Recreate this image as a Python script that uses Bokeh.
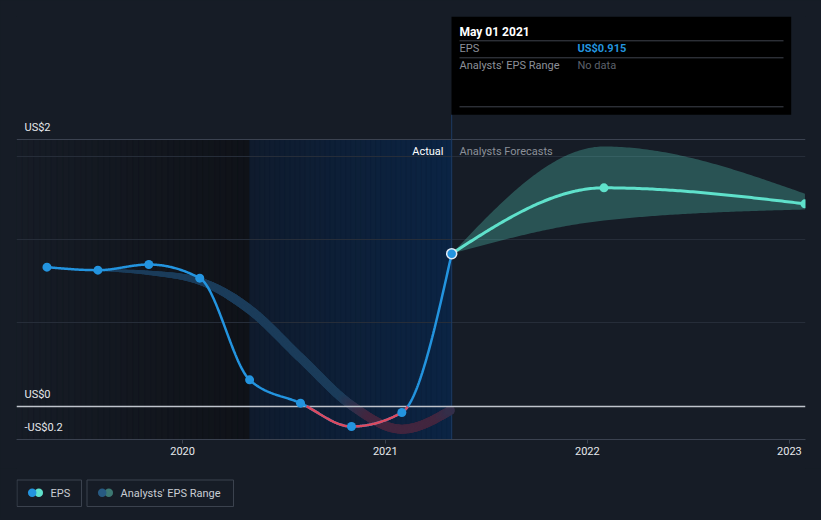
import numpy as np
import pandas as pd
from bokeh.plotting import figure
from bokeh.models import Range1d, FixedTicker, DatetimeTickFormatter, Label
from bokeh.layouts import column
from bokeh.embed import file_html
from bokeh.resources import INLINE
from bokeh.core.properties import value

# ---------------- data ----------------
eps_dates = ["2019-05-01", "2019-08-01", "2019-11-01", "2020-02-01", "2020-05-01",
             "2020-08-01", "2020-11-01", "2021-01-31", "2021-05-01"]
eps_values = [0.834, 0.816, 0.850, 0.768, 0.158, 0.018, -0.122, -0.038, 0.915]

past_range_dates = ["2019-08-01", "2019-11-01", "2020-02-01", "2020-05-01",
                    "2020-08-01", "2020-11-01", "2021-01-31", "2021-05-01"]
past_range_values = [0.816, 0.800, 0.750, 0.580, 0.290, 0.005, -0.138, -0.020]

forecast_dates = ["2021-05-01", "2022-01-31", "2023-01-29"]
forecast_values = [0.915, 1.310, 1.214]
forecast_low = [0.915, 1.114, 1.180]
forecast_high = [0.915, 1.558, 1.275]

x_tick_dates = ["2020-01-01", "2021-01-01", "2022-01-01", "2023-01-01"]
x_tick_labels = ["2020", "2021", "2022", "2023"]
y_tick_values = [1.6, 0.0, -0.2]
y_tick_labels = ["US$2", "US$0", "-US$0.2"]
grid_values = [0.5, 1.0, 1.5]

past_year_start = "2020-05-01"
tooltip_date = "May 01 2021"
tooltip_eps = "US$0.915"
legend_labels = ["EPS", "Analysts' EPS Range"]

# ---------------- styling ----------------
BG = "#161c26"
BLUE = "#2394df"
TEAL = "#5fe1cb"
RED = "#dc4a5f"
FONT = "Roboto"


def to_ms(dates):
    return pd.to_datetime(dates).values.astype("datetime64[ms]").astype("int64").astype(float)


def monotone_curve(xs, ys, n=60):
    """d3 curveMonotoneX rendering of the points."""
    xs = np.asarray(xs, float)
    ys = np.asarray(ys, float)
    N = len(xs)
    h = np.diff(xs)
    d = np.diff(ys) / h
    t = np.zeros(N)

    def sgn(v):
        return -1.0 if v < 0 else 1.0

    for i in range(1, N - 1):
        s0, s1, h0, h1 = d[i - 1], d[i], h[i - 1], h[i]
        pp = (s0 * h1 + s1 * h0) / (h0 + h1)
        t[i] = (sgn(s0) + sgn(s1)) * min(abs(s0), abs(s1), 0.5 * abs(pp))
    if N > 2:
        t[0] = (3 * d[0] - t[1]) / 2
        t[-1] = (3 * d[-1] - t[-2]) / 2
    else:
        t[0] = t[-1] = d[0]
    ox, oy = [], []
    for i in range(N - 1):
        u = np.linspace(0, 1, n, endpoint=(i == N - 2))
        h00 = 2 * u**3 - 3 * u**2 + 1
        h10 = u**3 - 2 * u**2 + u
        h01 = -2 * u**3 + 3 * u**2
        h11 = u**3 - u**2
        ox.append(xs[i] + u * h[i])
        oy.append(h00 * ys[i] + h10 * h[i] * t[i] + h01 * ys[i + 1] + h11 * h[i] * t[i + 1])
    return np.concatenate(ox), np.concatenate(oy)


eps_ms = to_ms(eps_dates)
past_ms = to_ms(past_range_dates)
fc_ms = to_ms(forecast_dates)
tick_ms = to_ms(x_tick_dates)

X_START = to_ms(["2019-03-07"])[0]
X_END = to_ms(["2023-01-30"])[0]
Y_BOT = -0.2
PX_PER_UNIT = 300 / 1.8
Y_TOP = Y_BOT + 423 / PX_PER_UNIT

# pixel helpers for decorations (page coordinates of the frame: x 16..805, y 16..439)
def xpx(px):
    return X_START + (px - 16) / (805 - 16) * (X_END - X_START)


def ypx(py):
    return Y_BOT + (439 - py) / PX_PER_UNIT


def hexmix(c1, c2, f):
    a = np.array([int(c1[i:i + 2], 16) for i in (1, 3, 5)], float)
    b = np.array([int(c2[i:i + 2], 16) for i in (1, 3, 5)], float)
    c = a * (1 - f) + b * f
    return "#%02x%02x%02x" % tuple(int(round(v)) for v in c)


p = figure(width=821, height=468, x_axis_type="datetime",
           x_range=Range1d(X_START, X_END), y_range=Range1d(Y_BOT, Y_TOP),
           output_backend="svg", toolbar_location=None, y_axis_location=None,
           min_border_left=16, min_border_right=16, min_border_top=16, min_border_bottom=29,
           background_fill_color=BG, border_fill_color=BG, outline_line_color=None)
p.grid.visible = False

# ---- shaded regions ----
py_start = to_ms([past_year_start])[0]
n_strips = 40
edges = np.linspace(X_START, py_start, n_strips + 1)
dark_cols = [hexmix(BG, "#0f1218", (i + 0.5) / n_strips) for i in range(n_strips)]
p.quad(left=edges[:-1], right=edges[1:], bottom=Y_BOT, top=y_tick_values[0],
       fill_color=dark_cols, line_color=dark_cols, line_width=0.5)
edges2 = np.linspace(py_start, eps_ms[-1], n_strips + 1)
blue_cols = [hexmix("#0f1b2d", "#0b2444", (i + 0.5) / n_strips) for i in range(n_strips)]
p.quad(left=edges2[:-1], right=edges2[1:], bottom=Y_BOT, top=y_tick_values[0],
       fill_color=blue_cols, line_color=blue_cols, line_width=0.5)

# ---- grid lines ----
p.hspan(y=grid_values, line_color="#262d39", line_width=1)
p.hspan(y=[y_tick_values[0]], line_color="#3b4250", line_width=1)

# ---- cursor line ----
p.segment(x0=[eps_ms[-1]], y0=[Y_BOT], x1=[eps_ms[-1]], y1=[ypx(114)],
          line_color="#1d3b63", line_width=1)

# ---- forecast range band ----
fx, flo = monotone_curve(fc_ms, forecast_low, n=80)
_, fhi = monotone_curve(fc_ms, forecast_high, n=80)
p.varea(x=fx, y1=flo, y2=fhi, fill_color=TEAL, fill_alpha=0.28)

# ---- past analysts range band ----
bx, by = monotone_curve(past_ms, past_range_values, n=40)
seg_xs = [[bx[i], bx[i + 1]] for i in range(len(bx) - 1)]
seg_ys = [[by[i], by[i + 1]] for i in range(len(by) - 1)]
mid = (by[:-1] + by[1:]) / 2
fmix = np.clip((0.05 - mid) / 0.12, 0, 1)
band_cols = [hexmix("#1b3c5a", "#42263f", f) for f in fmix]
taper_end = to_ms(["2020-04-01"])[0]
xm = (bx[:-1] + bx[1:]) / 2
widths = list(np.clip(1.5 + 7.5 * (xm - bx[0]) / (taper_end - bx[0]), 1.5, 9))
p.multi_line(xs=seg_xs[:-1], ys=seg_ys[:-1], line_color=band_cols[:-1],
             line_width=widths[:-1], line_cap="round")
p.multi_line(xs=seg_xs[-1:], ys=seg_ys[-1:], line_color=band_cols[-1:],
             line_width=widths[-1:], line_cap="butt")

# ---- zero line ----
p.hspan(y=[y_tick_values[1]], line_color="#bfc4cc", line_width=1.5)

# ---- EPS line ----
ex, ey = monotone_curve(eps_ms, eps_values, n=60)
p.line(ex, ey, line_color=BLUE, line_width=2.5)
ey_neg = np.where(ey < 0, ey, np.nan)
p.line(ex, ey_neg, line_color=RED, line_width=2.5)
p.scatter(eps_ms[:-1], eps_values[:-1], size=9, fill_color=BLUE, line_color=None)

# ---- forecast line ----
fx2, fy2 = monotone_curve(fc_ms, forecast_values, n=80)
p.line(fx2, fy2, line_color=TEAL, line_width=3)
p.scatter(fc_ms[1:], forecast_values[1:], size=9, fill_color=TEAL, line_color=None)
p.scatter(eps_ms[-1:], eps_values[-1:], size=10, fill_color=BLUE,
          line_color="#dfe8f2", line_width=1.5)

# ---- y labels ----
p.text(x=[xpx(24)] * len(y_tick_values),
       y=[v + 12 / PX_PER_UNIT for v in y_tick_values],
       text=y_tick_labels, text_baseline="middle", text_align="left",
       text_font=value(FONT), text_font_size="11px", text_color="#e6e8eb")

# ---- Actual / Forecast labels ----
p.add_layout(Label(x=xpx(443), y=ypx(151), text="Actual", text_align="right",
                   text_baseline="middle", text_font=FONT, text_font_size="11px",
                   text_color="#ffffff"))
p.add_layout(Label(x=xpx(459), y=ypx(151), text="Analysts Forecasts", text_align="left",
                   text_baseline="middle", text_font=FONT, text_font_size="11px",
                   text_color="#8b9099"))

# ---- tooltip ----
p.quad(left=[xpx(451)], right=[xpx(790.7)], bottom=[ypx(114.3)], top=[Y_TOP],
       fill_color="#000000", line_color=None)
p.segment(x0=[xpx(459)] * 3, x1=[xpx(783)] * 3,
          y0=[ypx(40.3), ypx(57.3), ypx(106.3)], y1=[ypx(40.3), ypx(57.3), ypx(106.3)],
          line_color="#3f444d", line_width=1)
p.add_layout(Label(x=xpx(459), y=ypx(31), text=tooltip_date, text_baseline="middle",
                   text_font=FONT, text_font_size="12px", text_font_style="bold",
                   text_color="#ffffff"))
p.add_layout(Label(x=xpx(459), y=ypx(48.3), text="EPS", text_baseline="middle",
                   text_font=FONT, text_font_size="11px", text_color="#8c9099"))
p.add_layout(Label(x=xpx(577), y=ypx(48.3), text=tooltip_eps, text_baseline="middle",
                   text_font=FONT, text_font_size="11px", text_font_style="bold",
                   text_color=BLUE))
p.add_layout(Label(x=xpx(459), y=ypx(65), text="Analysts' EPS Range", text_baseline="middle",
                   text_font=FONT, text_font_size="11px", text_color="#8c9099"))
p.add_layout(Label(x=xpx(577), y=ypx(65), text="No data", text_baseline="middle",
                   text_font=FONT, text_font_size="11px", text_color="#5d626b"))

# ---- x axis ----
ax = p.xaxis[0]
ax.ticker = FixedTicker(ticks=list(tick_ms))
ax.formatter = DatetimeTickFormatter(years="%Y", months="%Y", days="%Y")
ax.major_label_overrides = {int(t): lab for t, lab in zip(tick_ms, x_tick_labels)}
ax.axis_line_color = "#3b4250"
ax.axis_line_width = 1
ax.major_tick_line_color = "#3b4250"
ax.major_tick_out = 4
ax.major_tick_in = 0
ax.minor_tick_line_color = None
ax.major_label_standoff = 3
ax.major_label_text_font = FONT
ax.major_label_text_font_size = "11px"
ax.major_label_text_color = "#e6e8eb"

# ---------------- legend figure (frame aligned with the main frame: x 16..805) ----------------
leg = figure(width=821, height=50, x_range=Range1d(16, 805), y_range=Range1d(50, 0),
             output_backend="svg", toolbar_location=None,
             x_axis_location=None, y_axis_location=None,
             min_border_left=16, min_border_right=16, min_border_top=0, min_border_bottom=0,
             background_fill_color=BG, border_fill_color=BG, outline_line_color=None)
leg.grid.visible = False
leg.quad(left=[16.5, 86.5], right=[81, 233], top=[11.5, 11.5], bottom=[38, 38],
         fill_color=None, line_color="#3b424e", line_width=1)
leg.scatter(x=[38.3, 108.3], y=[24.3, 24.3], size=8.5,
            fill_color=[TEAL, "#3c7872"], line_color=None)
leg.scatter(x=[31.7, 101.7], y=[24.3, 24.3], size=8.5,
            fill_color=[BLUE, "#275a82"], line_color=None)
leg.text(x=[50, 120], y=[24.8, 24.8], text=legend_labels, text_baseline="middle",
         text_font=value(FONT), text_font_size="11px", text_color="#c9cdd3")

layout = column(p, leg, spacing=0)
html = file_html(layout, INLINE, title="EPS")
html = html.replace("</head>", "<style>body{background:%s;}</style></head>" % BG)
open("out.html", "w").write(html)
